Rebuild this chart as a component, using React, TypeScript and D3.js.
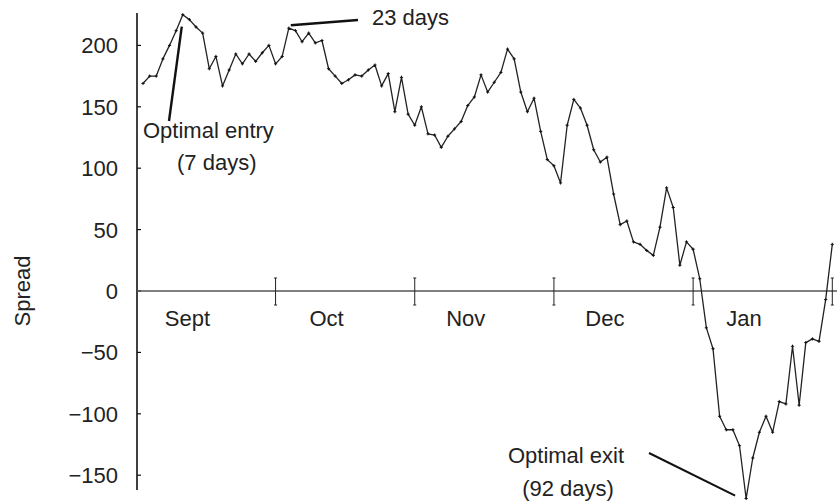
import React from 'react';
import * as d3 from 'd3';

// Daily spread, Sept through Jan (trading days)
const spread: number[] = [
  169, 175, 175, 189, 200, 212, 225, 221, 215, 210,
  181, 191, 167, 180, 193, 185, 193, 187, 194, 200,
  185, 191, 214, 212, 203, 210, 202, 204, 181, 175,
  169, 172, 176, 175, 180, 184, 167, 177, 146, 174,
  144, 135, 150, 128, 127, 117, 126, 132, 138, 151,
  158, 176, 162, 170, 178, 197, 189, 162, 146, 157,
  130, 107, 102, 88, 135, 156, 149, 135, 115, 105,
  109, 79, 54, 57, 40, 38, 33, 29, 52, 84,
  68, 21, 40, 34, 10, -30, -47, -102, -113, -113,
  -126, -169, -136, -115, -102, -115, -90, -92, -45, -93,
  -42, -39, -41, -7, 38,
];

const months = ['Sept', 'Oct', 'Nov', 'Dec', 'Jan'];
// index of the last trading day of each month
const monthEnds = [20, 41, 62, 83, 104];
const yTicks = [200, 150, 100, 50, 0, -50, -100, -150];

const entryDay = 7;
const peakDay = 23;
const exitDay = 92;

const W = 837;
const H = 503;
const FONT = '"Liberation Sans", Arial, Helvetica, sans-serif';
const FS = 22;

const fmt = (v: number) => (v < 0 ? '\u2212' + Math.abs(v) : String(v));

export default function App() {
  const x = d3.scaleLinear().domain([0, spread.length - 1]).range([143, 832.3]);
  const y = d3.scaleLinear().domain([-150, 200]).range([475.2, 45.4]);

  const axisX = 137;
  const y0 = y(0);

  const line = d3
    .line<number>()
    .x((_, i) => x(i))
    .y((d) => y(d));

  // month label sits a bit to the right of the previous separator
  const monthStarts = [-1, ...monthEnds.slice(0, -1)];

  const ex = x(entryDay - 1);
  const ey = y(spread[entryDay - 1]);
  const px = x(peakDay - 1);
  const py = y(spread[peakDay - 1]);
  const tx = x(exitDay - 1);
  const ty = y(spread[exitDay - 1]);

  return (
    <div style={{ position: 'absolute', left: 0, top: 0 }}>
      <svg width={W} height={H} style={{ display: 'block', background: '#fff' }} fontFamily={FONT}>
        {/* y axis */}
        <line x1={axisX} x2={axisX} y1={13} y2={490} stroke="#111" strokeWidth={1.6} />
        {yTicks.map((t) => (
          <g key={t}>
            <line x1={axisX} x2={axisX + 4} y1={y(t)} y2={y(t)} stroke="#111" strokeWidth={1.2} />
            <text x={118} y={y(t)} dy="0.36em" textAnchor="end" fontSize={FS} fill="#222">
              {fmt(t)}
            </text>
          </g>
        ))}
        <text
          transform={`translate(30,${y0}) rotate(-90)`}
          textAnchor="middle"
          fontSize={FS}
          fill="#222"
        >
          Spread
        </text>

        {/* zero line */}
        <line x1={axisX} x2={W} y1={y0} y2={y0} stroke="#555" strokeWidth={1.6} />

        {/* month separators */}
        {monthEnds.map((m) => (
          <g key={m} stroke="#222" strokeWidth={1}>
            <line x1={x(m)} x2={x(m)} y1={y0 - 13} y2={y0 + 14} />
            <line x1={x(m) - 1.5} x2={x(m) + 1.5} y1={y0 - 13} y2={y0 - 13} />
            <line x1={x(m) - 1.5} x2={x(m) + 1.5} y1={y0 + 14} y2={y0 + 14} />
          </g>
        ))}
        {months.map((m, i) => (
          <text
            key={m}
            x={x(monthStarts[i]) + 51}
            y={y0 + 27}
            dy="0.36em"
            textAnchor="middle"
            fontSize={FS}
            fill="#222"
          >
            {m}
          </text>
        ))}

        {/* spread line */}
        <path d={line(spread) || ''} fill="none" stroke="#222" strokeWidth={1.3} strokeLinejoin="round" />
        {spread.map((v, i) => (
          <path
            key={i}
            d={`M${x(i) - 1.6},${y(v)}h3.2M${x(i)},${y(v) - 1.6}v3.2`}
            stroke="#111"
            strokeWidth={1}
          />
        ))}

        {/* annotations */}
        <line x1={169} y1={121} x2={ex - 1} y2={ey + 12} stroke="#111" strokeWidth={2.4} />
        <text x={143} y={130} dy="0.36em" fontSize={FS} fill="#222">Optimal entry</text>
        <text x={177} y={162} dy="0.36em" fontSize={FS} fill="#222">(7 days)</text>

        <line x1={px + 2} y1={py - 3} x2={358} y2={20} stroke="#111" strokeWidth={2.4} />
        <text x={372} y={17} dy="0.36em" fontSize={FS} fill="#222">23 days</text>

        <line x1={649} y1={453} x2={tx - 11} y2={ty - 3} stroke="#111" strokeWidth={2} />
        <text x={566} y={455} dy="0.36em" textAnchor="middle" fontSize={FS} fill="#222">Optimal exit</text>
        <text x={568} y={488} dy="0.36em" textAnchor="middle" fontSize={FS} fill="#222">(92 days)</text>
      </svg>
    </div>
  );
}
